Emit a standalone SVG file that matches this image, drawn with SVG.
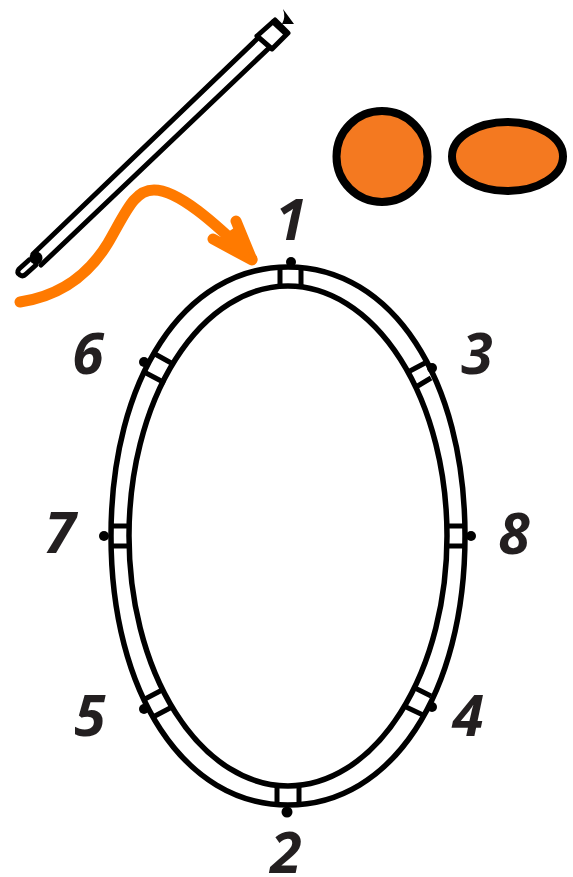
<svg xmlns="http://www.w3.org/2000/svg" width="573" height="877" viewBox="0 0 573 877">
<style>
.l{fill:none;stroke:#000;stroke-width:5.500}
.b{fill:none;stroke:#000;stroke-width:5}
.r{fill:none;stroke:#000;stroke-width:5;stroke-linecap:round;stroke-linejoin:round}
.d{fill:#000}
.o{fill:#f47920;stroke:#000;stroke-width:8}
.n{font-family:"Open Sans","Noto Sans",sans-serif;font-weight:700;font-style:italic;font-size:57px;fill:#231f20;text-anchor:middle}
.a{fill:none;stroke:#ff7a00;stroke-width:11;stroke-linecap:round;stroke-linejoin:round}
</style>
<g id="rod">
<path class="r" d="M33 254L258 38M41 265L268 49"/>
<path class="r" d="M29 260L19 269Q16 273 20 275Q23 277 26 274L36 265"/>
<circle class="d" cx="36" cy="258" r="6.500"/>
<path class="r" d="M257 36L275 20L288 33L272 49Z"/>
<path class="r" d="M273 22L286 34"/>
<path d="M283 9L294 24L282 24Q286 17 283 9Z" fill="#000"/>
</g>
<g id="disc-round"><ellipse class="o" cx="382" cy="156.500" rx="45.500" ry="45.500"/></g>
<g id="disc-oval"><ellipse class="o" cx="507.500" cy="156.500" rx="55.500" ry="34.500"/></g>
<g id="hoop">
<path class="l" d="M288 267C392 267 465 379 465 536C465 693 392 805 288 805C184 805 111 693 111 536C111 379 184 267 288 267Z"/>
<ellipse class="l" cx="288" cy="536" rx="159" ry="250"/>
</g>
<g id="connectors">
<path class="a" d="M20 302C60 296 88 276 108 243C126 212 134 190 154 190C178 190 214 222 252 259"/>
<path class="a" d="M236 221L252 260L213 239"/>
<path d="M253 262L237 226L216 240Z" fill="#ff7a00"/>
</g>
<g id="n1"><path class="b" d="M280 267V286M301 267V286"/><circle class="d" cx="291" cy="262" r="5"/><text class="n" x="291" y="240">1</text></g>
<g id="n2"><path class="b" d="M277 786V805M299 786V805"/><circle class="d" cx="287" cy="812" r="5.500"/><text class="n" x="286" y="873">2</text></g>
<g id="n3"><path class="b" d="M408 372L425 363M416 387L431 378"/><circle class="d" cx="432" cy="368" r="5"/><text class="n" x="477" y="374">3</text></g>
<g id="n4"><path class="b" d="M413 687L431 696M404 706L423 715"/><circle class="d" cx="432" cy="707" r="5"/><text class="n" x="468" y="736">4</text></g>
<g id="n5"><path class="b" d="M145 699L164 689M153 717L172 707"/><circle class="d" cx="144" cy="709" r="5"/><text class="n" x="90" y="736">5</text></g>
<g id="n6"><path class="b" d="M155 354L173 364M146 373L165 383"/><circle class="d" cx="144" cy="362" r="5"/><text class="n" x="88" y="374">6</text></g>
<g id="n7"><path class="b" d="M110 526H129M110 546H129"/><circle class="d" cx="104" cy="536" r="5"/><text class="n" x="60" y="553">7</text></g>
<g id="n8"><path class="b" d="M447 526H466M447 546H466"/><circle class="d" cx="471" cy="536" r="5"/><text class="n" x="514" y="554">8</text></g>
</svg>
